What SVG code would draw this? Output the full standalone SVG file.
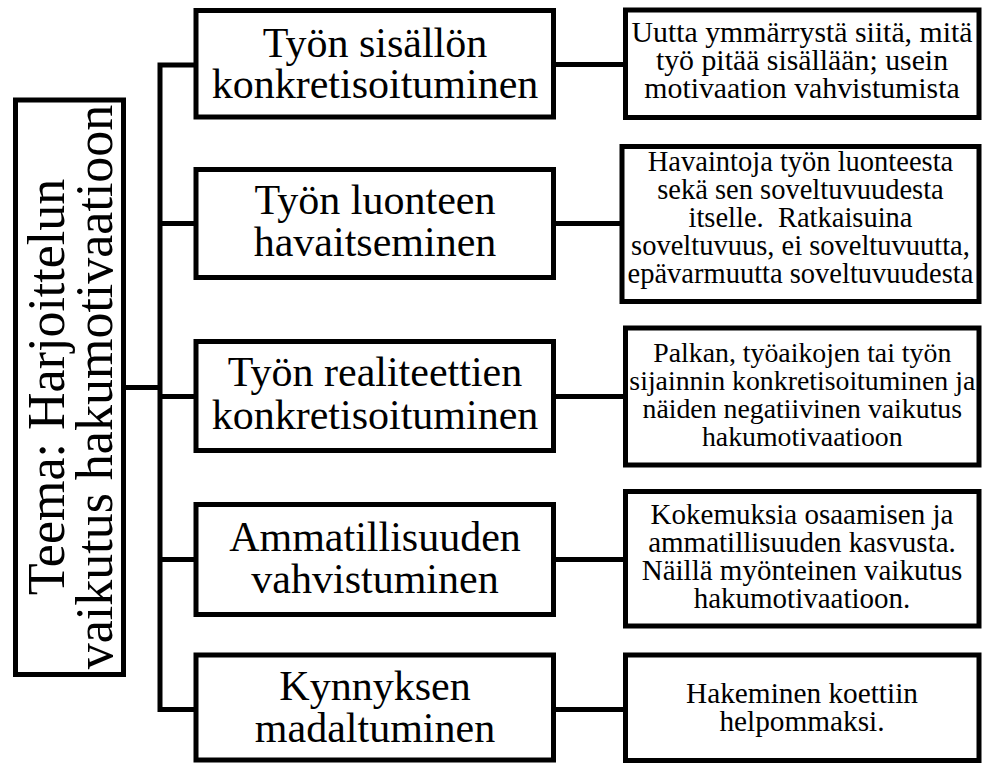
<svg xmlns="http://www.w3.org/2000/svg" width="982" height="763" viewBox="0 0 982 763">
<style>
rect{fill:#fff;stroke:#000;stroke-width:5}
.c{fill:none;stroke:#000;stroke-width:5}
text{fill:#000;text-anchor:middle;font-family:"Liberation Serif","Times New Roman",serif}
.m{font-size:42px}
.t{font-size:52px}
</style>
<rect width="982" height="763" style="stroke:none"/>
<g id="connectors">
<path class="c" d="M196,65 H160 V709.5 H196"/>
<path class="c" d="M160,223.5 H196 M160,396.5 H196 M160,559.5 H196 M123.5,387.5 H160"/>
<path class="c" d="M553.5,64.5 H625.5 M553.5,223.5 H622 M553.5,396.5 H625.5 M553.5,559.5 H625.5 M553.5,709.5 H625.5"/>
</g>
<g id="theme">
<rect x="15.5" y="100" width="108" height="574.5"/>
<text class="t" font-family="Liberation Serif" transform="translate(69,387) rotate(-90)"><tspan x="0" y="-5">Teema: Harjoittelun</tspan><tspan x="0" y="43">vaikutus hakumotivaatioon</tspan></text>
</g>
<g id="n1">
<rect x="196" y="10.5" width="357.5" height="106.5"/>
<text class="m" font-family="Liberation Serif"><tspan x="375" y="57">Työn sisällön</tspan><tspan x="375" y="98">konkretisoituminen</tspan></text>
</g>
<g id="n2">
<rect x="196" y="169.5" width="357.5" height="108"/>
<text class="m" font-family="Liberation Serif"><tspan x="375" y="214">Työn luonteen</tspan><tspan x="375" y="256">havaitseminen</tspan></text>
</g>
<g id="n3">
<rect x="196" y="341.5" width="357.5" height="109"/>
<text class="m" font-family="Liberation Serif"><tspan x="375" y="386">Työn realiteettien</tspan><tspan x="375" y="429">konkretisoituminen</tspan></text>
</g>
<g id="n4">
<rect x="196" y="504.5" width="357.5" height="110"/>
<text class="m" font-family="Liberation Serif"><tspan x="375" y="551">Ammatillisuuden</tspan><tspan x="375" y="593">vahvistuminen</tspan></text>
</g>
<g id="n5">
<rect x="196" y="655" width="357.5" height="105"/>
<text class="m" font-family="Liberation Serif"><tspan x="375" y="700">Kynnyksen</tspan><tspan x="375" y="742">madaltuminen</tspan></text>
</g>
<g id="d1">
<rect x="625.5" y="10" width="353.5" height="107.5"/>
<text font-size="29.8" font-family="Liberation Serif"><tspan x="802" y="42">Uutta ymmärrystä siitä, mitä</tspan><tspan x="802" y="70">työ pitää sisällään; usein</tspan><tspan x="802" y="98">motivaation vahvistumista</tspan></text>
</g>
<g id="d2">
<rect x="622" y="146.5" width="357" height="155"/>
<text font-size="28.5" font-family="Liberation Serif"><tspan x="800.5" y="171">Havaintoja työn luonteesta</tspan><tspan x="800.5" y="199">sekä sen soveltuvuudesta</tspan><tspan x="800.5" y="227" xml:space="preserve">itselle.  Ratkaisuina</tspan><tspan x="800.5" y="255">soveltuvuus, ei soveltuvuutta,</tspan><tspan x="800.5" y="283">epävarmuutta soveltuvuudesta</tspan></text>
</g>
<g id="d3">
<rect x="625.5" y="328" width="353.5" height="137"/>
<text font-size="27.8" font-family="Liberation Serif"><tspan x="802.3" y="362">Palkan, työaikojen tai työn</tspan><tspan x="802.3" y="390">sijainnin konkretisoituminen ja</tspan><tspan x="802.3" y="418">näiden negatiivinen vaikutus</tspan><tspan x="802.3" y="446">hakumotivaatioon</tspan></text>
</g>
<g id="d4">
<rect x="625.5" y="491.5" width="353.5" height="134.5"/>
<text font-size="29" font-family="Liberation Serif"><tspan x="802" y="524">Kokemuksia osaamisen ja</tspan><tspan x="802" y="552">ammatillisuuden kasvusta.</tspan><tspan x="802" y="580">Näillä myönteinen vaikutus</tspan><tspan x="802" y="608">hakumotivaatioon.</tspan></text>
</g>
<g id="d5">
<rect x="625.5" y="655" width="353.5" height="105.5"/>
<text font-size="29.3" font-family="Liberation Serif"><tspan x="802" y="703">Hakeminen koettiin</tspan><tspan x="802" y="731">helpommaksi.</tspan></text>
</g>
</svg>
